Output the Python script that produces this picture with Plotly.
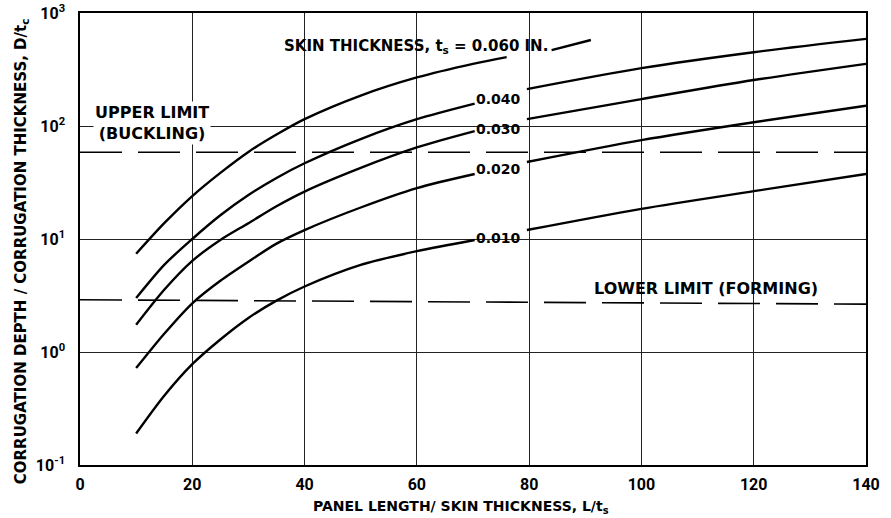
import math
import plotly.graph_objects as go

# ---- data ----
x_t060 = [10, 15, 20, 25, 30, 35, 40, 50, 60, 70, 76, None, 84, 91]
y_t060 = [7.4, 13.8, 24, 38.5, 59, 84, 115, 186, 269, 355, 407, None, 469, 577]

x_left = [10, 15, 20, 25, 30, 35, 40, 50, 60, 70.3, None, 79.6, 100, 120, 140]
y_t040 = [3.0, 5.9, 10, 16.2, 24.5, 34.7, 46.8, 76.7, 115, 158, None, 212, 325, 450, 590]
y_t030 = [1.74, 3.55, 6.4, 9.8, 13.8, 19.5, 26.3, 42.6, 64.6, 90, None, 115, 173, 255, 355]
y_t020 = [0.72, 1.45, 2.7, 4.27, 6.3, 9.1, 12, 19, 28.2, 37.6, None, 48, 75, 108, 151]
y_t010 = [0.19, 0.41, 0.78, 1.29, 2.0, 2.85, 3.8, 5.9, 7.8, 9.8, None, 12, 18.5, 26.5, 37.6]

upper_x = [0, 140]
upper_y = [58.5, 58.5]
lower_x = [0, 140]
lower_y = [2.9, 2.65]

x_ticks = [0, 20, 40, 60, 80, 100, 120, 140]
y_ticks = [0.1, 1, 10, 100, 1000]
y_tick_text = ["10<sup>-1</sup>", "10<sup>0</sup>", "10<sup>1</sup>", "10<sup>2</sup>", "10<sup>3</sup>"]

curve_labels = ["0.040", "0.030", "0.020", "0.010"]
curve_label_y = [174, 95, 41.7, 10.2]

FONT = "DejaVu Sans"


def f(size, family=FONT):
    return dict(family=family, size=size, color="black", weight="bold")


fig = go.Figure()
for xs, ys in [(x_t060, y_t060), (x_left, y_t040), (x_left, y_t030),
               (x_left, y_t020), (x_left, y_t010)]:
    fig.add_trace(go.Scatter(x=xs, y=ys, mode="lines", connectgaps=False,
                             line=dict(color="black", width=2.4, shape="spline", smoothing=0.8),
                             showlegend=False, hoverinfo="skip"))

for xs, ys in [(upper_x, upper_y), (lower_x, lower_y)]:
    fig.add_trace(go.Scatter(x=xs, y=ys, mode="lines",
                             line=dict(color="black", width=1.6, dash="42px,16px"),
                             showlegend=False, hoverinfo="skip"))

ann = []
for lab, yv in zip(curve_labels, curve_label_y):
    ann.append(dict(x=74.6, y=math.log10(yv), xref="x", yref="y", text=lab,
                    showarrow=False, font=f(14)))
ann.append(dict(x=59.8, y=2.70, xref="x", yref="y",
                text="SKIN THICKNESS, t<sub>s</sub> = 0.060 IN.",
                showarrow=False, font=f(15)))
ann.append(dict(x=12.8, y=2.03, xref="x", yref="y",
                text="UPPER LIMIT<br>(BUCKLING)", showarrow=False,
                font=f(16), bgcolor="white"))
ann.append(dict(x=111.5, y=0.566, xref="x", yref="y",
                text="LOWER LIMIT (FORMING)", showarrow=False, font=f(16)))
ann.append(dict(x=(461 - 80) / 786, y=-0.093, xref="paper", yref="paper",
                xanchor="center", yanchor="middle",
                text="PANEL LENGTH/ SKIN THICKNESS, L/t<sub>s</sub>", showarrow=False,
                font=f(14)))
ann.append(dict(x=(21 - 80) / 786, y=0.473, xref="paper", yref="paper", textangle=-90,
                xanchor="center", yanchor="middle",
                text="CORRUGATION DEPTH / CORRUGATION THICKNESS, D/t<sub>c</sub>",
                showarrow=False, font=f(15)))

fig.update_layout(
    width=891, height=518,
    margin=dict(l=80, r=25, t=13, b=53),
    paper_bgcolor="white", plot_bgcolor="white",
    annotations=ann,
    xaxis=dict(range=[0, 140], tickvals=x_ticks, showgrid=True, gridcolor="#222",
               gridwidth=1, zeroline=False, showline=True, mirror=True,
               linecolor="black", linewidth=1.5, ticks="", automargin=False,
               ticklabelstandoff=4, ticklabeloverflow="allow",
               tickfont=f(16, "Roboto")),
    yaxis=dict(type="log", range=[-1, 3], tickvals=y_ticks, ticktext=y_tick_text,
               showgrid=True, gridcolor="#222", gridwidth=1, zeroline=False,
               showline=True, mirror=True, linecolor="black", linewidth=1.5, ticks="",
               automargin=False, ticklabelstandoff=10, ticklabeloverflow="allow",
               tickfont=f(16, "Roboto")),
)

# remove the page's default 8px body margin so the figure fills the window
fig.write_html("out.html", config={"displayModeBar": False},
               post_script="document.body.style.margin='0px';document.body.style.overflow='hidden';")
